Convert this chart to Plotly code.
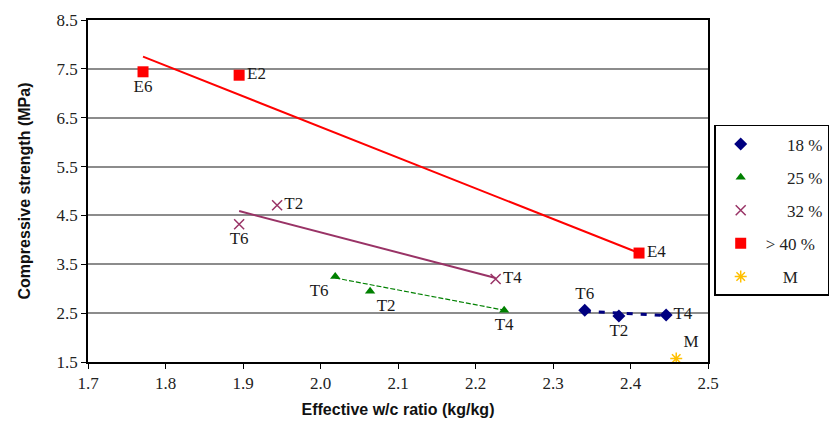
import plotly.graph_objects as go

# 18 %
s18_x = [2.341, 2.385, 2.446]
s18_y = [2.56, 2.44, 2.46]
s18_lbl = ["T6", "T2", "T4"]
s18_fit_x = [2.341, 2.446]
s18_fit_y = [2.54, 2.45]
# 25 %
s25_x = [2.019, 2.064, 2.237]
s25_y = [3.25, 2.95, 2.56]
s25_lbl = ["T6", "T2", "T4"]
s25_fit_x = [2.019, 2.237]
s25_fit_y = [3.22, 2.56]
# 32 %
s32_x = [1.895, 1.944, 2.226]
s32_y = [4.32, 4.71, 3.20]
s32_lbl = ["T6", "T2", "T4"]
s32_fit_x = [1.895, 2.226]
s32_fit_y = [4.59, 3.22]
# > 40 %
s40_x = [1.771, 1.895, 2.411]
s40_y = [7.44, 7.37, 3.73]
s40_lbl = ["E6", "E2", "E4"]
s40_fit_x = [1.771, 2.411]
s40_fit_y = [7.75, 3.73]
# M
m_x = [2.459]
m_y = [1.57]
m_lbl = ["M"]

x_ticks = [1.7, 1.8, 1.9, 2.0, 2.1, 2.2, 2.3, 2.4, 2.5]
y_ticks = [1.5, 2.5, 3.5, 4.5, 5.5, 6.5, 7.5, 8.5]

C18, C25, C32, C40, CM = "#000080", "#008000", "#993366", "#ff0000", "#ffc000"
serif = "Liberation Serif, Times New Roman, serif"
sans = "Liberation Sans, Arial, sans-serif"
lblfont = dict(family=serif, size=17, color="#1a1a1a")
NB = "\u00a0"

fig = go.Figure()

# trend lines
fig.add_trace(go.Scatter(x=s40_fit_x, y=s40_fit_y, mode="lines", line=dict(color=C40, width=2), showlegend=False, hoverinfo="skip"))
fig.add_trace(go.Scatter(x=s32_fit_x, y=s32_fit_y, mode="lines", line=dict(color=C32, width=2), showlegend=False, hoverinfo="skip"))
fig.add_trace(go.Scatter(x=s25_fit_x, y=s25_fit_y, mode="lines", line=dict(color=C25, width=1.2, dash="5px,2px"), showlegend=False, hoverinfo="skip"))
fig.add_trace(go.Scatter(x=s18_fit_x, y=s18_fit_y, mode="lines", line=dict(color=C18, width=3, dash="6px,8px"), showlegend=False, hoverinfo="skip"))

fig.add_trace(go.Scatter(x=s18_x, y=s18_y, mode="markers+text", name=NB * 5 + "18 %", legendgroup="a",
                         text=s18_lbl, textposition=["top center", "bottom center", "middle right"], textfont=lblfont,
                         marker=dict(symbol="diamond", color=C18, size=10)))
fig.add_trace(go.Scatter(x=s25_x, y=s25_y, mode="markers+text", name=NB * 5 + "25 %", legendgroup="b",
                         text=s25_lbl, textposition=["bottom left", "bottom right", "bottom center"], textfont=lblfont,
                         marker=dict(symbol="triangle-up", color=C25, size=9)))
fig.add_trace(go.Scatter(x=s32_x, y=s32_y, mode="markers+text", name=NB * 5 + "32 %", legendgroup="c",
                         text=s32_lbl, textposition=["bottom center", "middle right", "middle right"], textfont=lblfont,
                         marker=dict(symbol="x-thin", color=C32, size=10, line=dict(color=C32, width=1.5))))
fig.add_trace(go.Scatter(x=s40_x, y=s40_y, mode="markers+text", name="> 40 %", legendgroup="d",
                         text=s40_lbl, textposition=["bottom center", "middle right", "middle right"], textfont=lblfont,
                         marker=dict(symbol="square", color=C40, size=11)))
fig.add_trace(go.Scatter(x=m_x, y=m_y, mode="markers+text", name=NB * 4 + "M", legendgroup="e",
                         text=m_lbl, textposition=["top right"], textfont=lblfont,
                         marker=dict(symbol="asterisk", color=CM, size=10, line=dict(color=CM, width=1.5))))

axis_common = dict(showline=True, linecolor="black", linewidth=1.5, mirror=True,
                   ticks="outside", ticklen=5, tickcolor="black",
                   tickfont=dict(family=serif, size=17, color="#222"), zeroline=False)

fig.update_xaxes(range=[1.7, 2.5], tickvals=x_ticks, ticktext=[f"{v:.1f}" for v in x_ticks],
                 showgrid=False,
                 title=dict(text="<b>Effective w/c ratio (kg/kg)</b>", font=dict(family=sans, size=16, color="#111"), standoff=12),
                 **axis_common)
fig.update_yaxes(range=[1.5, 8.5], tickvals=y_ticks, ticktext=[f"{v:.1f}" for v in y_ticks],
                 showgrid=True, gridcolor="#8c8c8c", gridwidth=1.5,
                 title=dict(text="<b>Compressive strength (MPa)</b>", font=dict(family=sans, size=16, color="#111"), standoff=22),
                 **axis_common)

fig.update_layout(
    width=829, height=436,
    margin=dict(l=88, r=121, t=20, b=74, autoexpand=False),
    paper_bgcolor="white", plot_bgcolor="white",
    legend=dict(x=1.01, y=0.693, xanchor="left", yanchor="top",
                bordercolor="black", borderwidth=1.5,
                font=dict(family=serif, size=17, color="#222"),
                tracegroupgap=8, itemwidth=40),
)

fig.write_html("out.html")
